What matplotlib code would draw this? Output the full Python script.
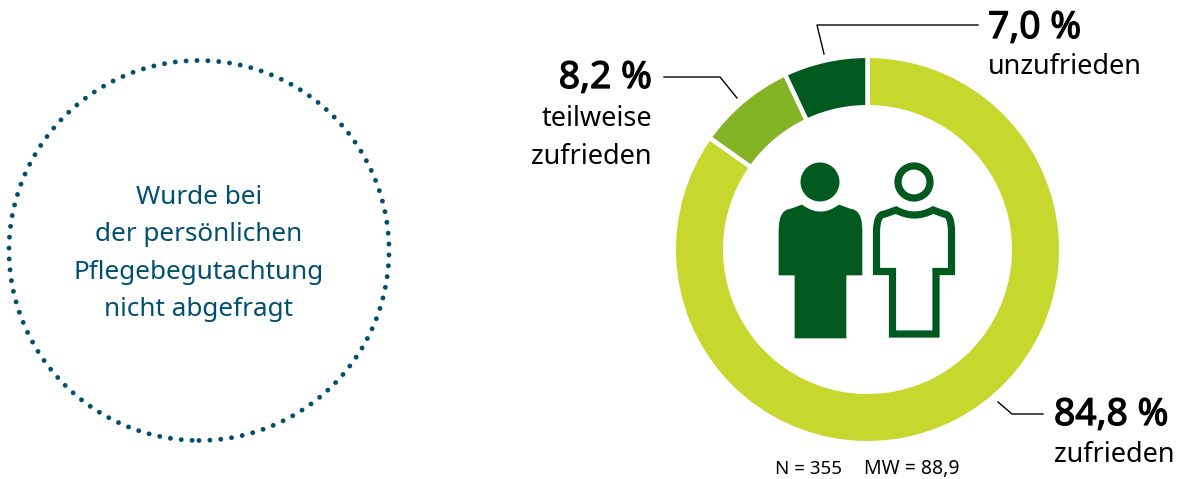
import matplotlib
matplotlib.use("Agg")
import matplotlib.pyplot as plt
import matplotlib.patheffects as pe
from matplotlib.patches import Circle, PathPatch
from matplotlib.path import Path

W, H = 1184, 479
shares = [84.8, 8.2, 7.0]
colors = ["#C6D72E", "#84B425", "#005A20"]
left_lines = ["Wurde bei", "der persönlichen", "Pflegebegutachtung", "nicht abgefragt"]
note_n = "N = 355"
note_mw = "MW = 88,9"
pct_labels = ["84,8 %", "8,2 %", "7,0 %"]

FONT = "Noto Sans"
BLUE = "#004F71"
GREEN = "#005A20"

fig = plt.figure(figsize=(W / 100, H / 100), dpi=100)
ax = fig.add_axes([0, 0, 1, 1])


def Y(py):
    return H - py


ax.pie(shares, colors=colors, startangle=90, counterclock=False,
       center=(867.5, Y(249.5)), radius=193.7,
       wedgeprops=dict(width=51.4, edgecolor="white", linewidth=3.2))
ax.set_xlim(0, W)
ax.set_ylim(0, H)
ax.set_aspect("equal")
ax.axis("off")

# dotted circle
ax.add_patch(Circle((199, Y(250.5)), 190, fill=False, edgecolor=BLUE,
                    linewidth=3.5, linestyle=(0, (0.01, 2.23)),
                    capstyle="round"))

for i, t in enumerate(left_lines):
    ax.text(199, Y(197 + i * 37.6), t, color=BLUE, fontsize=18.8, family=FONT,
            ha="center", va="center")


def leader(pts):
    ax.plot([p[0] for p in pts], [Y(p[1]) for p in pts], color="black", lw=1)


leader([(664, 77), (720, 77), (737, 98)])
leader([(978, 25), (817, 25), (824, 54)])
leader([(998, 402), (1012, 414), (1043, 414)])


def pct(x, y, s, ha):
    ax.text(x, Y(y), s, fontsize=26.8, family=FONT, ha=ha, va="center", color="black",
            path_effects=[pe.withStroke(linewidth=0.9, foreground="black")])


def lab(x, y, s, ha, size=19.5):
    ax.text(x, Y(y), s, fontsize=size, family=FONT, ha=ha, va="center", color="black")


pct(652, 79, pct_labels[1], "right")
lab(652, 119, "teilweise", "right")
lab(652, 157, "zufrieden", "right")
pct(988, 29, pct_labels[2], "left")
lab(988, 67, "unzufrieden", "left")
pct(1054, 416, pct_labels[0], "left")
lab(1054, 455, "zufrieden", "left")
lab(775, 469, note_n, "left", 13.5)
lab(864, 469, note_mw, "left", 14)

M, L, C, Z = Path.MOVETO, Path.LINETO, Path.CURVE3, Path.CLOSEPOLY


def person(x0, xa, xb, x1, xl, xr, yp, yd, ys, yc, ya, yb, ink, **kw):
    """Person silhouette in reference pixels."""
    pts = [
        (xa, yp), (ink, yd), (xb, yp),
        (xb + 11, yp + 4), (x1, ys - 2), (x1, yc),
        (x1, ya), (xr, ya), (xr, yb), (xl, yb), (xl, ya), (x0, ya),
        (x0, yc), (x0, ys - 2), (xa - 11, yp + 4), (xa, yp), (xa, yp),
    ]
    codes = [M, C, C, L, C, C, L, L, L, L, L, L, L, C, C, L, Z]
    ax.add_patch(PathPatch(Path([(x, Y(y)) for x, y in pts], codes), **kw))


ax.add_patch(Circle((820, Y(182)), 19.5, color=GREEN, lw=0))
person(779, 802, 839, 862, 795, 846, 205, 219, 212, 230, 275, 338, 820.5,
       facecolor=GREEN, edgecolor=GREEN, lw=0.5, joinstyle="round")

ax.add_patch(Circle((914, Y(182)), 16, fill=False, edgecolor=GREEN, lw=5.2))
person(876.5, 896, 933, 951.5, 892.5, 936, 210, 220, 216, 232, 271.5, 334, 914.5,
       facecolor="none", edgecolor=GREEN, lw=5.2, joinstyle="miter")

fig.savefig("out.png", dpi=100, facecolor="white")
